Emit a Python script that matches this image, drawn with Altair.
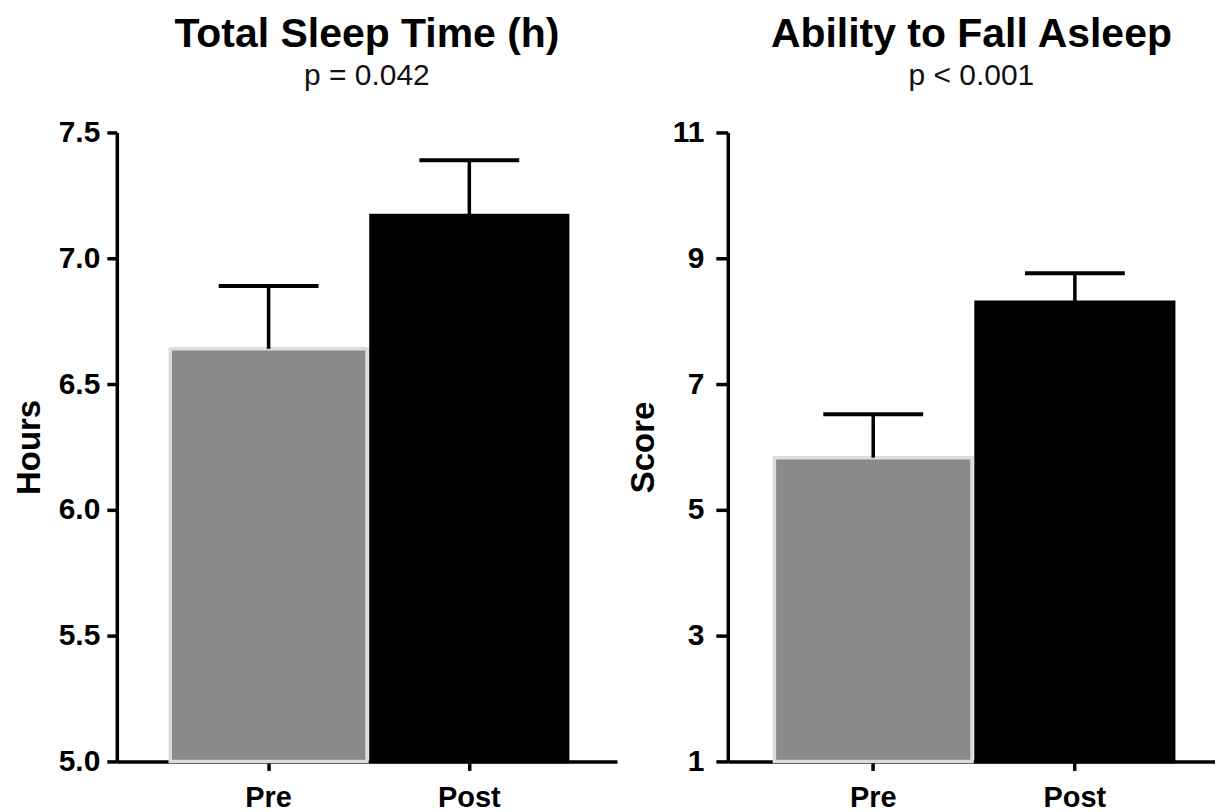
import altair as alt
import pandas as pd

categories = ["Pre", "Post"]
sleep_mean = [6.64, 7.17]
sleep_upper = [6.89, 7.39]
fall_mean = [5.83, 8.30]
fall_upper = [6.52, 8.76]

sleep_ticks = [5.0, 5.5, 6.0, 6.5, 7.0, 7.5]
fall_ticks = [1, 3, 5, 7, 9, 11]

FONT = "Liberation Sans"
fills = ["#8a8a8a", "#000000"]
strokes = ["#dcdcdc", "#000000"]


def panel(means, uppers, ymin, ymax, ticks, fmt, ytitle, title, ptext, width,
          pad_outer, align, label_pad, tick_size, title_pad):
    df = pd.DataFrame({"category": categories, "mean": means, "upper": uppers})
    x = alt.X("category:N", sort=categories,
              scale=alt.Scale(paddingInner=0.02, paddingOuter=pad_outer, align=align),
              axis=alt.Axis(title=None, labelAngle=0, labelFont=FONT, labelFontSize=29,
                            labelFontWeight="bold", labelColor="black", labelPadding=13,
                            domainColor="black", domainWidth=3.5, tickColor="black",
                            tickWidth=3.5, tickSize=9))
    yscale = alt.Scale(domain=[ymin, ymax], nice=False, zero=False)
    yaxis = alt.Axis(title=ytitle, values=ticks, format=fmt, grid=False,
                     labelFont=FONT, labelFontSize=30, labelFontWeight="bold",
                     labelColor="black", labelPadding=label_pad, domainColor="black",
                     domainWidth=3.5, tickColor="black", tickWidth=3.5, tickSize=tick_size,
                     titleFont=FONT, titleFontSize=33, titleFontWeight="bold",
                     titleColor="black", titlePadding=title_pad)
    base = alt.Chart(df)
    bars = base.mark_bar(strokeWidth=3.5).encode(
        x=x,
        y=alt.Y("mean:Q", scale=yscale, axis=yaxis),
        y2=alt.datum(ymin),
        fill=alt.Fill("category:N", scale=alt.Scale(domain=categories, range=fills), legend=None),
        stroke=alt.Stroke("category:N", scale=alt.Scale(domain=categories, range=strokes), legend=None),
    )
    rule = base.mark_rule(color="black", strokeWidth=3.5, opacity=1).encode(
        x=alt.X("category:N", sort=categories), y="mean:Q", y2="upper:Q")
    cap = base.mark_tick(color="black", thickness=4, size=100, opacity=1).encode(
        x=alt.X("category:N", sort=categories), y="upper:Q")
    return alt.layer(bars, rule, cap).properties(
        width=width, height=630,
        title=alt.TitleParams(text=title, subtitle=ptext, font=FONT, fontSize=41,
                              fontWeight="bold", color="black", subtitleFont=FONT,
                              subtitleFontSize=30, subtitleFontWeight="normal",
                              subtitleColor="#111111", subtitlePadding=5, offset=26,
                              anchor="middle", frame="group"))


left = panel(sleep_mean, sleep_upper, 5.0, 7.5, sleep_ticks, ".1f", "Hours",
             "Total Sleep Time (h)", "p = 0.042", 501, 0.256, 0.52, 7, 10, 12)
right = panel(fall_mean, fall_upper, 1, 11, fall_ticks, "d", "Score",
              "Ability to Fall Asleep", "p < 0.001", 488, 0.218, 0.53, 12, 12, 12)

chart = alt.hconcat(left, right, spacing=10).resolve_scale(
    fill="independent", stroke="independent").properties(
    padding={"left": 5, "top": 5, "right": 0, "bottom": 0}
).configure_view(stroke=None)

chart.save("out.html", embed_options={"renderer": "svg", "actions": False})
